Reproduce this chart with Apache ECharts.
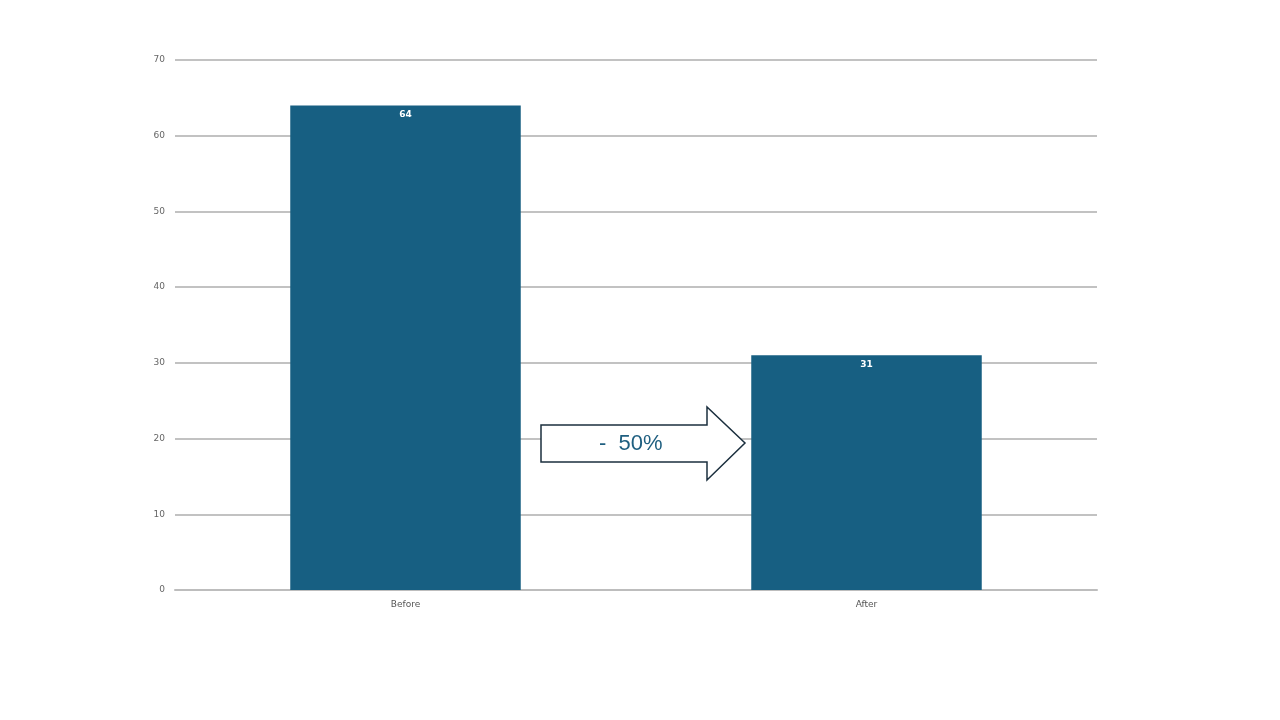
<!DOCTYPE html>
<html>
<head>
<meta charset="utf-8">
<script src="https://cdn.jsdelivr.net/npm/echarts@6/dist/echarts.min.js"></script>
<style>html,body{margin:0;padding:0;background:#fff}#c{width:1280px;height:720px}</style>
</head>
<body>
<div id="c"></div>
<script>
const categories = ['Before', 'After'];
const values = [64, 31];
const annotationText = '-  50%';

const chart = echarts.init(document.getElementById('c'));
chart.setOption({
  animation: false,
  backgroundColor: '#ffffff',
  grid: { left: 175, right: 183, top: 60, bottom: 130 },
  xAxis: {
    type: 'category',
    data: categories,
    axisLine: { show: true, lineStyle: { color: '#bdbdbd', width: 2 } },
    axisTick: { show: false },
    axisLabel: { color: '#555', fontSize: 9, fontFamily: 'DejaVu Sans', margin: 10 }
  },
  yAxis: {
    type: 'value',
    min: 0, max: 70, interval: 10,
    axisLine: { show: false },
    axisTick: { show: false },
    axisLabel: { color: '#666', fontSize: 9, fontFamily: 'DejaVu Sans', margin: 10, padding: [3, 0, 0, 0] },
    splitLine: { lineStyle: { color: '#c2c2c2', width: 2 } }
  },
  series: [{
    type: 'bar',
    data: values,
    barWidth: '50%',
    itemStyle: { color: '#175f82' },
    label: {
      show: true, position: 'insideTop', distance: 5,
      color: '#ffffff', fontWeight: 'bold', fontSize: 9, fontFamily: 'DejaVu Sans'
    }
  }],
  graphic: [{
    type: 'polygon',
    shape: { points: [[541,425],[707,425],[707,407],[745,443],[707,480],[707,462],[541,462]] },
    style: { fill: '#ffffff', stroke: '#1b2f3e', lineWidth: 1.5 },
    z: 10
  }, {
    type: 'text',
    left: 599, top: 433,
    style: { text: annotationText, fill: '#1f5f80', font: '22px "Liberation Sans", Arial' },
    z: 11
  }]
});
</script>
</body>
</html>
